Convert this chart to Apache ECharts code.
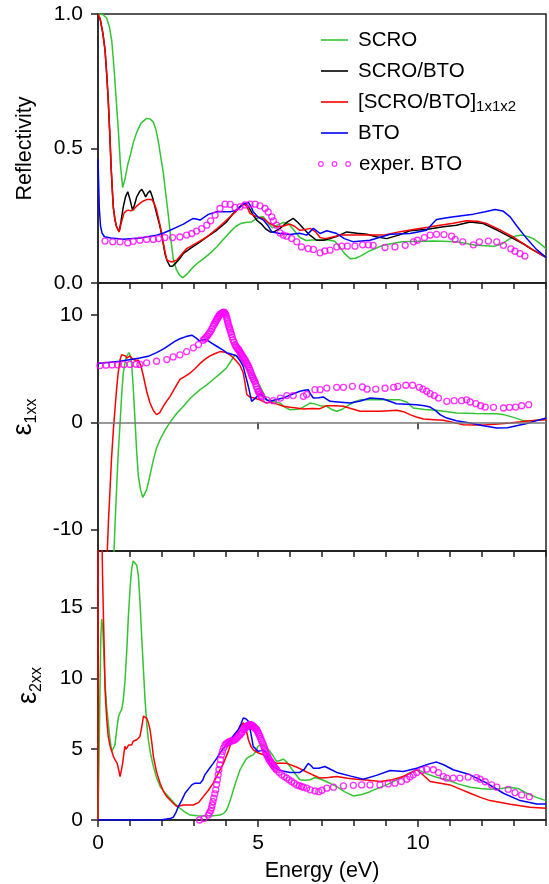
<!DOCTYPE html>
<html>
<head>
<meta charset="utf-8">
<script src="https://cdn.jsdelivr.net/npm/echarts@6/dist/echarts.min.js"></script>
<style>
html, body { margin: 0; padding: 0; background: #fff; }
#chart { width: 549px; height: 884px; }
</style>
</head>
<body>
<div id="chart"></div>
<script>
// ---- tick labels ----
const energyTicks = [0, 5, 10];
const reflTicks = [0, 0.5, 1.0];
const eps1Ticks = [-10, 0, 10];
const eps2Ticks = [0, 5, 10, 15];

// ---- legend names ----
const nameScro = 'SCRO';
const nameScroBto = 'SCRO/BTO';
const nameSuper = '[SCRO/BTO]1x1x2';
const nameBto = 'BTO';
const nameExp = 'exper. BTO';

// ---- reflectivity ----
const scroReflE = [0, 0.15, 0.27, 0.36, 0.43, 0.5, 0.57, 0.64, 0.7, 0.77, 0.85, 0.93, 1.0, 1.1, 1.21, 1.35, 1.52, 1.63, 1.73, 1.81, 1.88, 1.96, 2.04, 2.12, 2.2, 2.28, 2.35, 2.45, 2.55, 2.65, 2.8, 2.98, 3.15, 3.29, 3.5, 3.71, 3.9, 4.13, 4.3, 4.44, 4.6, 4.8, 4.96, 5.08, 5.17, 5.3, 5.45, 5.6, 5.8, 5.95, 6.1, 6.3, 6.5, 6.7, 6.95, 7.2, 7.4, 7.55, 7.7, 7.88, 8.05, 8.2, 8.5, 8.9, 9.5, 10.0, 10.5, 11.2, 11.8, 12.4, 12.65, 12.85, 13.05, 13.25, 13.45, 13.6, 13.8, 14];
const scroReflR = [1.0, 0.998, 0.985, 0.95, 0.9, 0.8, 0.68, 0.56, 0.44, 0.355, 0.39, 0.44, 0.47, 0.52, 0.56, 0.595, 0.612, 0.61, 0.598, 0.57, 0.53, 0.47, 0.41, 0.33, 0.25, 0.16, 0.09, 0.05, 0.028, 0.02, 0.035, 0.06, 0.078, 0.09, 0.11, 0.134, 0.16, 0.19, 0.21, 0.22, 0.225, 0.227, 0.24, 0.245, 0.246, 0.225, 0.205, 0.215, 0.225, 0.22, 0.2, 0.17, 0.158, 0.16, 0.16, 0.16, 0.155, 0.135, 0.11, 0.09, 0.092, 0.1, 0.12, 0.14, 0.153, 0.155, 0.156, 0.153, 0.14, 0.137, 0.147, 0.163, 0.175, 0.178, 0.172, 0.165, 0.148, 0.128];

const scroBtoReflE = [0, 0.07, 0.15, 0.22, 0.27, 0.32, 0.37, 0.41, 0.45, 0.48, 0.53, 0.58, 0.66, 0.72, 0.79, 0.86, 0.93, 1.0, 1.08, 1.14, 1.21, 1.3, 1.37, 1.43, 1.49, 1.56, 1.63, 1.7, 1.78, 1.86, 1.94, 2.02, 2.09, 2.17, 2.25, 2.33, 2.41, 2.55, 2.67, 2.9, 3.19, 3.45, 3.71, 4.0, 4.23, 4.45, 4.59, 4.7, 4.85, 4.96, 5.1, 5.25, 5.38, 5.5, 5.69, 5.9, 6.1, 6.25, 6.42, 6.6, 6.83, 7.04, 7.25, 7.5, 7.77, 8.1, 8.4, 8.7, 9.02, 9.4, 9.75, 10.3, 10.79, 11.2, 11.63, 12.04, 12.5, 12.98, 13.3, 13.6, 14];
const scroBtoReflR = [1.0, 0.98, 0.93, 0.867, 0.78, 0.68, 0.55, 0.43, 0.34, 0.28, 0.235, 0.209, 0.19, 0.23, 0.283, 0.32, 0.339, 0.31, 0.271, 0.29, 0.32, 0.34, 0.348, 0.335, 0.32, 0.335, 0.343, 0.32, 0.283, 0.245, 0.209, 0.16, 0.11, 0.08, 0.062, 0.062, 0.072, 0.09, 0.11, 0.13, 0.153, 0.175, 0.196, 0.225, 0.259, 0.285, 0.296, 0.285, 0.252, 0.234, 0.22, 0.2, 0.19, 0.19, 0.203, 0.225, 0.24, 0.225, 0.203, 0.18, 0.159, 0.159, 0.165, 0.175, 0.19, 0.185, 0.181, 0.172, 0.165, 0.178, 0.194, 0.2, 0.209, 0.215, 0.227, 0.221, 0.195, 0.165, 0.145, 0.122, 0.095];

const superReflE = [0, 0.07, 0.15, 0.22, 0.27, 0.32, 0.37, 0.41, 0.45, 0.48, 0.53, 0.58, 0.66, 0.73, 0.81, 0.88, 0.95, 1.02, 1.1, 1.2, 1.31, 1.42, 1.52, 1.6, 1.68, 1.76, 1.83, 1.91, 1.99, 2.07, 2.15, 2.3, 2.46, 2.6, 2.77, 3.1, 3.4, 3.7, 4.02, 4.3, 4.54, 4.65, 4.75, 4.85, 5.0, 5.17, 5.35, 5.58, 5.8, 6.0, 6.15, 6.31, 6.45, 6.63, 6.8, 6.94, 7.1, 7.3, 7.56, 8.0, 8.5, 8.92, 9.4, 9.85, 10.3, 10.69, 11.1, 11.52, 11.85, 12.15, 12.6, 12.98, 13.5, 14];
const superReflR = [1.0, 0.98, 0.93, 0.865, 0.78, 0.68, 0.55, 0.43, 0.34, 0.28, 0.235, 0.21, 0.19, 0.225, 0.259, 0.268, 0.271, 0.268, 0.271, 0.285, 0.296, 0.305, 0.31, 0.31, 0.31, 0.295, 0.271, 0.23, 0.184, 0.13, 0.085, 0.078, 0.085, 0.105, 0.128, 0.15, 0.171, 0.2, 0.234, 0.265, 0.296, 0.285, 0.259, 0.252, 0.245, 0.24, 0.222, 0.209, 0.212, 0.219, 0.21, 0.196, 0.198, 0.203, 0.19, 0.169, 0.165, 0.17, 0.178, 0.178, 0.178, 0.178, 0.19, 0.199, 0.207, 0.215, 0.222, 0.231, 0.23, 0.221, 0.195, 0.171, 0.13, 0.095];

const btoReflE = [0, 0.02, 0.04, 0.08, 0.13, 0.2, 0.4, 0.79, 1.31, 1.83, 2.05, 2.25, 2.45, 2.67, 2.85, 2.98, 3.1, 3.19, 3.3, 3.45, 3.71, 4.13, 4.3, 4.44, 4.58, 4.7, 4.75, 4.8, 4.85, 5.0, 5.17, 5.3, 5.43, 5.69, 6.0, 6.3, 6.52, 6.73, 6.94, 7.15, 7.46, 7.7, 7.98, 8.5, 9.13, 9.75, 10.27, 10.45, 10.58, 11.0, 11.73, 12.1, 12.41, 12.65, 12.88, 13.1, 13.4, 13.7, 14];
const btoReflR = [0.46, 0.37, 0.28, 0.21, 0.185, 0.172, 0.167, 0.163, 0.167, 0.178, 0.186, 0.196, 0.207, 0.219, 0.232, 0.24, 0.237, 0.234, 0.243, 0.255, 0.265, 0.265, 0.27, 0.283, 0.295, 0.3, 0.302, 0.28, 0.265, 0.245, 0.234, 0.215, 0.19, 0.184, 0.18, 0.185, 0.178, 0.203, 0.184, 0.194, 0.184, 0.165, 0.153, 0.159, 0.181, 0.184, 0.196, 0.22, 0.236, 0.244, 0.256, 0.265, 0.273, 0.268, 0.246, 0.21, 0.165, 0.125, 0.095];

const expReflE = [0.22, 0.46, 0.69, 0.93, 1.1, 1.31, 1.52, 1.73, 1.89, 2.09, 2.33, 2.56, 2.77, 2.93, 3.08, 3.24, 3.4, 3.52, 3.66, 3.81, 3.97, 4.13, 4.28, 4.44, 4.59, 4.75, 4.91, 5.06, 5.22, 5.32, 5.43, 5.48, 5.58, 5.69, 5.79, 5.9, 6.05, 6.21, 6.36, 6.57, 6.73, 6.94, 7.09, 7.25, 7.46, 7.62, 7.79, 8.03, 8.27, 8.45, 8.6, 8.97, 9.28, 9.6, 9.86, 9.98, 10.2, 10.38, 10.58, 10.81, 11.05, 11.16, 11.4, 11.73, 11.92, 12.2, 12.46, 12.67, 12.9, 13.03, 13.19, 13.34];
const expReflR = [0.156, 0.153, 0.153, 0.149, 0.155, 0.159, 0.162, 0.162, 0.165, 0.169, 0.169, 0.171, 0.178, 0.184, 0.193, 0.202, 0.215, 0.231, 0.252, 0.277, 0.293, 0.292, 0.281, 0.283, 0.29, 0.293, 0.293, 0.287, 0.277, 0.264, 0.246, 0.231, 0.215, 0.186, 0.178, 0.174, 0.165, 0.153, 0.134, 0.128, 0.125, 0.112, 0.119, 0.122, 0.134, 0.137, 0.137, 0.137, 0.142, 0.142, 0.14, 0.132, 0.134, 0.14, 0.153, 0.159, 0.169, 0.178, 0.181, 0.18, 0.174, 0.162, 0.153, 0.142, 0.153, 0.156, 0.153, 0.14, 0.127, 0.118, 0.109, 0.1];

// ---- real part of the dielectric function ----
const scroEps1E = [0.47, 0.5, 0.54, 0.58, 0.63, 0.69, 0.74, 0.79, 0.85, 0.9, 0.97, 1.01, 1.05, 1.1, 1.16, 1.21, 1.26, 1.33, 1.4, 1.46, 1.52, 1.62, 1.73, 1.83, 1.94, 2.1, 2.25, 2.45, 2.67, 2.9, 3.19, 3.4, 3.6, 3.8, 4.02, 4.15, 4.28, 4.44, 4.6, 4.75, 4.85, 5.06, 5.27, 5.45, 5.69, 5.85, 6.0, 6.15, 6.31, 6.45, 6.63, 6.8, 6.94, 7.15, 7.3, 7.46, 7.62, 7.77, 8.0, 8.19, 8.5, 8.81, 9.1, 9.44, 9.65, 9.85, 10.2, 10.58, 11.21, 11.8, 12.46, 12.7, 12.88, 13.1, 13.29, 13.6, 13.99];
const scroEps1V = [-15, -12, -9, -6.3, -3, -0.06, 2.6, 4.6, 5.7, 6.2, 6.5, 6.2, 5.5, 3.3, 0, -2.8, -5.0, -6.3, -7.0, -6.9, -6.3, -5.0, -3.5, -2.4, -1.6, -0.7, 0, 0.8, 1.5, 2.3, 3.05, 3.5, 4.0, 4.5, 5.1, 5.7, 6.3, 5.9, 5.2, 4.7, 4.3, 3.4, 2.1, 1.96, 1.8, 1.4, 1.18, 1.2, 1.25, 1.5, 1.8, 1.7, 1.56, 1.5, 1.2, 1.03, 1.2, 1.5, 1.9, 2.1, 2.1, 2.1, 2.1, 2.1, 1.9, 1.34, 1.2, 1.12, 0.87, 0.83, 0.81, 0.7, 0.56, 0.35, 0.16, 0.15, 0.31];

const superEps1E = [0.27, 0.29, 0.33, 0.375, 0.42, 0.48, 0.53, 0.58, 0.63, 0.69, 0.74, 0.79, 0.85, 0.9, 0.95, 1.0, 1.05, 1.1, 1.18, 1.26, 1.34, 1.42, 1.52, 1.625, 1.73, 1.83, 1.93, 2.04, 2.15, 2.25, 2.4, 2.56, 2.72, 2.875, 3.03, 3.19, 3.35, 3.5, 3.65, 3.81, 3.97, 4.125, 4.23, 4.33, 4.44, 4.54, 4.6, 4.65, 4.75, 4.85, 5.06, 5.27, 5.375, 5.6, 5.79, 6.0, 6.2, 6.42, 6.7, 6.94, 7.15, 7.4, 7.67, 7.9, 8.19, 8.5, 8.81, 9.1, 9.33, 9.55, 9.75, 9.95, 10.17, 10.5, 10.79, 11.1, 11.42, 11.8, 12.15, 12.5, 12.88, 13.2, 13.5, 14];
const superEps1V = [-16, -12, -9, -6.3, -3.5, -0.7, 1.2, 3.05, 4.6, 5.86, 6.3, 6.4, 6.2, 6.0, 6.0, 6.2, 6.1, 5.86, 5.8, 5.8, 5.3, 4.3, 2.9, 1.8, 1.1, 0.72, 0.9, 1.5, 2.0, 2.4, 3.2, 4.0, 4.3, 4.6, 5.0, 5.5, 5.9, 6.2, 6.4, 6.6, 6.55, 6.3, 6.0, 5.7, 5.3, 4.6, 3.6, 2.6, 2.35, 2.3, 2.1, 1.8, 1.87, 1.7, 1.5, 1.4, 1.34, 1.25, 1.3, 1.28, 1.56, 1.55, 1.5, 1.3, 1.03, 1.03, 1.03, 1.08, 1.12, 1.0, 0.72, 0.5, 0.31, 0.25, 0.19, 0.0, -0.22, -0.25, -0.22, -0.15, -0.06, 0.05, 0.16, 0.25];

const btoEps1E = [0, 0.69, 1.31, 1.6, 1.83, 2.05, 2.25, 2.4, 2.56, 2.75, 2.93, 3.05, 3.17, 3.28, 3.4, 3.55, 3.71, 3.87, 4.02, 4.18, 4.33, 4.45, 4.54, 4.6, 4.67, 4.74, 4.8, 4.9, 5.06, 5.17, 5.27, 5.375, 5.55, 5.79, 6.05, 6.31, 6.45, 6.57, 6.65, 6.73, 6.9, 7.04, 7.25, 7.5, 7.88, 8.2, 8.5, 8.92, 9.33, 9.65, 9.96, 10.2, 10.38, 10.55, 10.7, 10.9, 11.2, 11.63, 12.0, 12.46, 12.8, 13.08, 13.4, 13.71, 14];
const btoEps1V = [5.48, 5.7, 6.0, 6.2, 6.5, 6.85, 7.26, 7.55, 7.8, 8.0, 8.13, 7.9, 7.6, 7.7, 7.7, 7.4, 7.1, 6.8, 6.5, 6.35, 6.2, 5.7, 5.2, 4.5, 3.7, 2.8, 1.96, 2.2, 2.7, 2.4, 2.1, 1.96, 2.1, 2.27, 2.6, 2.9, 3.0, 3.05, 2.6, 2.27, 2.3, 2.37, 1.96, 1.9, 1.8, 2.0, 2.27, 2.18, 1.74, 1.7, 1.65, 1.55, 1.43, 1.1, 0.7, 0.4, 0.15, -0.06, -0.3, -0.53, -0.5, -0.31, -0.1, 0.16, 0.4];

const expEps1E = [0.06, 0.25, 0.44, 0.62, 0.81, 1.0, 1.19, 1.31, 1.52, 1.83, 2.15, 2.35, 2.56, 2.77, 2.98, 3.14, 3.29, 3.33, 3.37, 3.41, 3.45, 3.485, 3.52, 3.56, 3.6, 3.63, 3.66, 3.685, 3.71, 3.735, 3.76, 3.785, 3.81, 3.845, 3.88, 3.91, 3.94, 3.96, 3.98, 4.0, 4.02, 4.035, 4.05, 4.07, 4.09, 4.11, 4.13, 4.15, 4.17, 4.195, 4.22, 4.25, 4.28, 4.305, 4.33, 4.36, 4.39, 4.415, 4.44, 4.465, 4.49, 4.515, 4.54, 4.57, 4.6, 4.625, 4.65, 4.675, 4.7, 4.725, 4.75, 4.775, 4.8, 4.825, 4.85, 4.875, 4.9, 4.925, 4.95, 4.98, 5.01, 5.035, 5.06, 5.085, 5.11, 5.27, 5.48, 5.7, 5.9, 6.1, 6.42, 6.52, 6.78, 6.94, 7.15, 7.46, 7.67, 7.95, 8.26, 8.41, 8.68, 8.97, 9.24, 9.37, 9.62, 9.83, 10.04, 10.15, 10.27, 10.38, 10.51, 10.64, 10.9, 11.13, 11.36, 11.52, 11.63, 11.81, 11.96, 12.1, 12.36, 12.67, 12.86, 13.05, 13.24, 13.46];
const expEps1V = [5.3, 5.33, 5.36, 5.36, 5.4, 5.4, 5.42, 5.4, 5.55, 5.7, 5.86, 6.1, 6.3, 6.6, 6.95, 7.26, 7.66, 7.78, 7.9, 8.05, 8.2, 8.35, 8.5, 8.72, 8.97, 9.15, 9.3, 9.45, 9.6, 9.72, 9.85, 9.95, 10.06, 10.15, 10.2, 10.25, 10.28, 10.22, 10.1, 10.0, 9.8, 9.6, 9.4, 9.2, 8.97, 8.8, 8.6, 8.4, 8.2, 7.95, 7.7, 7.5, 7.26, 7.12, 7.0, 6.9, 6.8, 6.68, 6.55, 6.42, 6.3, 6.18, 6.05, 5.92, 5.8, 5.65, 5.5, 5.37, 5.23, 5.05, 4.85, 4.65, 4.45, 4.28, 4.1, 3.95, 3.8, 3.6, 3.35, 3.1, 2.9, 2.78, 2.65, 2.5, 2.4, 2.1, 2.02, 2.27, 2.5, 2.5, 2.43, 2.6, 3.05, 3.05, 3.2, 3.27, 3.27, 3.36, 3.3, 3.1, 3.1, 3.18, 3.27, 3.36, 3.46, 3.46, 3.27, 3.1, 2.9, 2.68, 2.5, 2.27, 1.96, 2.02, 2.02, 2.1, 1.9, 1.74, 1.55, 1.43, 1.4, 1.34, 1.4, 1.43, 1.55, 1.65];

// ---- imaginary part of the dielectric function ----
const scroEps2E = [0, 0.03, 0.06, 0.09, 0.115, 0.15, 0.22, 0.27, 0.32, 0.38, 0.43, 0.48, 0.53, 0.58, 0.64, 0.69, 0.74, 0.79, 0.84, 0.9, 0.95, 1.0, 1.05, 1.1, 1.16, 1.21, 1.26, 1.31, 1.36, 1.42, 1.47, 1.52, 1.57, 1.65, 1.73, 1.83, 1.94, 2.1, 2.25, 2.4, 2.56, 2.72, 2.875, 3.1, 3.4, 3.6, 3.81, 3.92, 4.02, 4.12, 4.23, 4.33, 4.44, 4.55, 4.65, 4.75, 4.85, 4.92, 5.0, 5.08, 5.17, 5.27, 5.375, 5.48, 5.58, 5.69, 5.79, 5.9, 6.0, 6.15, 6.31, 6.47, 6.63, 6.78, 6.94, 7.15, 7.46, 7.7, 7.98, 8.25, 8.5, 8.75, 9.02, 9.3, 9.54, 9.75, 9.96, 10.1, 10.27, 10.6, 10.9, 11.25, 11.63, 11.95, 12.25, 12.55, 12.88, 13.15, 13.4, 13.7, 14];
const scroEps2V = [0, 4, 9, 13, 14.2, 13.5, 9.7, 8.0, 6.86, 5.6, 4.85, 4.75, 5.3, 6.3, 7.3, 7.6, 7.8, 8.5, 9.7, 12.0, 14.4, 16.3, 17.7, 18.3, 18.4, 18.0, 17.3, 15.5, 13.2, 10.6, 8.5, 6.9, 5.7, 4.6, 3.8, 3.0, 2.36, 1.9, 1.54, 1.15, 0.83, 0.55, 0.35, 0.3, 0.28, 0.3, 0.35, 0.45, 0.71, 1.3, 2.13, 2.85, 3.55, 4.0, 4.37, 4.5, 4.6, 4.8, 5.2, 5.3, 5.3, 5.1, 4.85, 4.5, 4.14, 4.2, 4.3, 4.1, 3.78, 3.3, 2.84, 2.8, 2.84, 3.0, 2.9, 2.7, 2.36, 2.0, 1.7, 1.8, 2.0, 2.25, 2.48, 2.8, 3.07, 3.35, 3.55, 3.45, 3.26, 3.0, 2.84, 2.55, 2.32, 2.22, 2.17, 2.2, 2.32, 2.2, 1.89, 1.6, 1.37];

const superEps2E = [0, 0.005, 0.11, 0.14, 0.17, 0.2, 0.22, 0.27, 0.32, 0.38, 0.43, 0.48, 0.53, 0.6, 0.65, 0.69, 0.73, 0.77, 0.81, 0.84, 0.88, 0.92, 0.96, 1.0, 1.05, 1.1, 1.15, 1.21, 1.26, 1.31, 1.37, 1.42, 1.47, 1.52, 1.57, 1.625, 1.68, 1.73, 1.83, 1.94, 2.05, 2.15, 2.3, 2.46, 2.67, 2.98, 3.15, 3.29, 3.45, 3.6, 3.76, 3.92, 4.08, 4.23, 4.39, 4.47, 4.54, 4.62, 4.7, 4.78, 4.85, 5.0, 5.17, 5.375, 5.58, 5.9, 6.2, 6.42, 6.7, 6.94, 7.2, 7.46, 7.8, 8.08, 8.45, 8.81, 9.2, 9.54, 9.75, 9.96, 10.15, 10.38, 10.7, 11.0, 11.3, 11.63, 11.95, 12.25, 12.55, 12.88, 13.2, 13.5, 14];
const superEps2V = [0, 40, 22, 17.5, 14.4, 11.5, 9.2, 7.2, 5.9, 5.2, 4.85, 4.5, 4.26, 4.0, 3.5, 3.07, 3.5, 4.0, 4.7, 5.2, 5.0, 4.96, 5.3, 5.44, 5.3, 5.56, 5.5, 5.67, 5.6, 5.9, 6.6, 7.33, 7.35, 7.2, 6.9, 6.4, 5.5, 4.5, 3.4, 2.6, 2.0, 1.65, 1.3, 0.95, 1.06, 1.06, 1.25, 1.65, 2.1, 2.6, 3.3, 4.0, 4.9, 5.9, 6.4, 6.65, 6.86, 6.5, 5.67, 5.2, 4.96, 4.75, 4.6, 4.26, 4.0, 4.0, 3.74, 3.5, 3.2, 2.96, 3.0, 3.07, 2.95, 2.88, 2.8, 2.72, 2.85, 3.07, 3.3, 3.55, 3.2, 2.72, 2.6, 2.48, 2.2, 1.89, 1.6, 1.37, 1.25, 1.11, 1.0, 0.9, 0.83];

const btoEps2E = [0, 1.0, 2.0, 2.25, 2.35, 2.43, 2.51, 2.62, 2.72, 2.83, 2.93, 3.03, 3.19, 3.27, 3.34, 3.47, 3.6, 3.71, 3.81, 3.97, 4.125, 4.25, 4.39, 4.47, 4.54, 4.62, 4.7, 4.78, 4.85, 5.0, 5.1, 5.17, 5.27, 5.375, 5.52, 5.69, 6.0, 6.31, 6.45, 6.57, 6.65, 6.73, 6.9, 7.09, 7.25, 7.46, 7.9, 8.29, 8.7, 9.13, 9.54, 9.96, 10.2, 10.4, 10.58, 10.8, 11.1, 11.63, 12.15, 12.67, 13.19, 13.71, 14];
const btoEps2V = [0, 0, 0.02, 0.1, 0.19, 0.5, 0.95, 1.4, 1.89, 2.2, 2.48, 2.6, 2.6, 2.8, 3.19, 3.6, 4.0, 4.35, 4.73, 5.2, 5.67, 6.0, 6.4, 6.8, 7.21, 7.15, 6.97, 6.1, 5.2, 4.85, 4.9, 4.96, 4.7, 4.0, 3.7, 3.5, 3.36, 3.36, 3.6, 4.0, 3.85, 3.66, 3.66, 3.78, 3.6, 3.36, 3.1, 2.88, 3.15, 3.5, 3.43, 3.66, 3.85, 4.0, 4.09, 3.9, 3.55, 3.19, 2.6, 1.89, 1.37, 1.13, 1.13];

const expEps2E = [3.17, 3.31, 3.45, 3.48, 3.52, 3.545, 3.57, 3.595, 3.62, 3.65, 3.68, 3.705, 3.73, 3.755, 3.78, 3.805, 3.83, 3.86, 3.89, 3.93, 3.97, 4.01, 4.05, 4.08, 4.12, 4.16, 4.2, 4.24, 4.28, 4.32, 4.36, 4.4, 4.44, 4.47, 4.5, 4.54, 4.57, 4.6, 4.625, 4.65, 4.675, 4.7, 4.725, 4.75, 4.775, 4.8, 4.825, 4.85, 4.875, 4.9, 4.93, 4.96, 4.985, 5.01, 5.035, 5.06, 5.085, 5.11, 5.14, 5.17, 5.19, 5.21, 5.23, 5.25, 5.275, 5.3, 5.325, 5.35, 5.375, 5.4, 5.43, 5.46, 5.49, 5.52, 5.55, 5.58, 5.66, 5.74, 5.82, 5.9, 5.97, 6.05, 6.13, 6.21, 6.29, 6.36, 6.42, 6.52, 6.63, 6.78, 6.9, 7.0, 7.15, 7.36, 7.67, 7.98, 8.24, 8.5, 8.81, 9.07, 9.28, 9.48, 9.65, 9.75, 9.85, 9.96, 10.12, 10.27, 10.48, 10.64, 10.79, 10.9, 11.1, 11.31, 11.57, 11.83, 11.94, 12.1, 12.3, 12.46, 12.82, 13.03, 13.24, 13.48];
const expEps2V = [0.0, 0.1, 0.35, 0.5, 0.65, 0.85, 1.06, 1.3, 1.55, 1.85, 2.13, 2.5, 2.84, 3.2, 3.55, 3.9, 4.26, 4.6, 4.85, 5.1, 5.3, 5.4, 5.45, 5.5, 5.55, 5.58, 5.6, 5.63, 5.67, 5.75, 5.85, 5.95, 6.03, 6.12, 6.2, 6.38, 6.45, 6.5, 6.56, 6.62, 6.66, 6.7, 6.72, 6.74, 6.73, 6.7, 6.66, 6.62, 6.56, 6.5, 6.44, 6.38, 6.27, 6.15, 6.03, 5.91, 5.75, 5.6, 5.45, 5.3, 5.15, 5.0, 4.86, 4.73, 4.6, 4.5, 4.38, 4.26, 4.18, 4.1, 4.0, 3.9, 3.8, 3.72, 3.63, 3.55, 3.37, 3.19, 3.07, 2.96, 2.84, 2.72, 2.6, 2.48, 2.42, 2.36, 2.32, 2.25, 2.13, 2.05, 2.0, 2.1, 2.25, 2.32, 2.41, 2.45, 2.48, 2.48, 2.48, 2.55, 2.6, 2.72, 2.88, 3.05, 3.19, 3.35, 3.5, 3.59, 3.55, 3.35, 3.07, 2.96, 2.96, 2.96, 3.03, 3.0, 2.88, 2.7, 2.48, 2.32, 2.17, 1.94, 1.77, 1.65];

// ---- styling ----
const FONT = 'Liberation Sans';
const INK = '#222';
const COLORS = {
  [nameScro]: '#33c433',
  [nameScroBto]: '#000000',
  [nameSuper]: '#ff0000',
  [nameBto]: '#0000ff',
  [nameExp]: '#ff00ff'
};

const pairs = (xs, ys) => xs.map((x, i) => [x, ys[i]]);

const panels = [
  { top: 14, height: 269, min: 0, max: 1, ticks: reflTicks },
  { top: 283, height: 268, min: -12, max: 13, ticks: eps1Ticks },
  { top: 551, height: 269, min: 0, max: 19, ticks: eps2Ticks }
];

const grid = panels.map(p => ({
  left: 98, width: 448, top: p.top, height: p.height,
  show: true, borderColor: INK, borderWidth: 1.5,
  backgroundColor: 'transparent',
  containLabel: false, outerBoundsMode: 'none'
}));

const lineStyleAxis = { color: INK, width: 1.5 };

const xAxis = [];
const yAxis = [];
panels.forEach((p, i) => {
  const last = i === panels.length - 1;
  xAxis.push({
    gridIndex: i, type: 'value', min: 0, max: 14, interval: 1,
    axisLine: { show: true, onZero: false, lineStyle: lineStyleAxis },
    axisTick: { show: true, inside: false, length: 6, lineStyle: lineStyleAxis },
    axisLabel: {
      show: last, customValues: energyTicks, margin: 13,
      fontFamily: FONT, fontSize: 21, color: '#000'
    },
    splitLine: { show: false },
    name: last ? 'Energy (eV)' : '',
    nameLocation: 'middle', nameGap: 40,
    nameTextStyle: { fontFamily: FONT, fontSize: 21.5, color: '#000' }
  });
  xAxis.push({
    gridIndex: i, type: 'value', min: 0, max: 14,
    axisLine: { show: false },
    axisTick: { show: true, inside: true, length: 7, customValues: energyTicks, lineStyle: lineStyleAxis },
    axisLabel: { show: false },
    splitLine: { show: false }
  });
});

const epsRich = {
  e: { fontFamily: FONT, fontSize: 27, lineHeight: 32, verticalAlign: 'middle', color: '#000' },
  s: { fontFamily: FONT, fontSize: 16, lineHeight: 4, verticalAlign: 'bottom', color: '#000' }
};
const yNames = [
  { name: 'Reflectivity', gap: 62, style: { fontFamily: FONT, fontSize: 21.5, color: '#000' } },
  { name: '{e|ε}{s|1xx}', gap: 58, style: { fontFamily: FONT, color: '#000', rich: epsRich } },
  { name: '{e|ε}{s|2xx}', gap: 53, style: { fontFamily: FONT, color: '#000', rich: epsRich } }
];

panels.forEach((p, i) => {
  yAxis.push({
    gridIndex: i, type: 'value', min: p.min, max: p.max,
    axisLine: { show: true, onZero: false, lineStyle: lineStyleAxis },
    axisTick: { show: true, inside: false, length: 7, customValues: p.ticks, lineStyle: lineStyleAxis },
    axisLabel: {
      show: true, customValues: p.ticks, margin: 15,
      fontFamily: FONT, fontSize: 21, color: '#000',
      formatter: v => (i === 0 ? v.toFixed(1) : String(v))
    },
    splitLine: { show: false },
    name: yNames[i].name, nameLocation: 'middle', nameGap: yNames[i].gap,
    nameTextStyle: yNames[i].style
  });
  yAxis.push({
    gridIndex: i, type: 'value', min: p.min, max: p.max,
    axisLine: { show: false },
    axisTick: { show: true, inside: true, length: 7, customValues: p.ticks, lineStyle: lineStyleAxis },
    axisLabel: { show: false },
    splitLine: { show: false }
  });
});

function curve(name, panel, xs, ys, extra) {
  return Object.assign({
    name, type: 'line', xAxisIndex: panel * 2, yAxisIndex: panel * 2,
    data: pairs(xs, ys), symbol: 'none', showSymbol: false, clip: true,
    lineStyle: { color: COLORS[name], width: 1.5 },
    itemStyle: { color: COLORS[name] },
    animation: false, silent: true, z: 3
  }, extra || {});
}
function points(panel, xs, ys) {
  return {
    name: nameExp, type: 'scatter', xAxisIndex: panel * 2, yAxisIndex: panel * 2,
    data: pairs(xs, ys), symbol: 'circle', symbolSize: 6, clip: true,
    itemStyle: { color: 'rgba(255,255,255,0)', borderColor: COLORS[nameExp], borderWidth: 1.3 },
    animation: false, silent: true, z: 4
  };
}

const zeroLine = {
  silent: true, symbol: ['none', 'none'], label: { show: false },
  lineStyle: { color: '#777', width: 1.5, type: 'solid' },
  data: [{ yAxis: 0 }], animation: false
};

const series = [
  curve(nameScro, 0, scroReflE, scroReflR),
  curve(nameScroBto, 0, scroBtoReflE, scroBtoReflR),
  curve(nameSuper, 0, superReflE, superReflR),
  curve(nameBto, 0, btoReflE, btoReflR),
  points(0, expReflE, expReflR),

  curve(nameScro, 1, scroEps1E, scroEps1V, { markLine: zeroLine }),
  curve(nameSuper, 1, superEps1E, superEps1V),
  curve(nameBto, 1, btoEps1E, btoEps1V),
  points(1, expEps1E, expEps1V),

  curve(nameScro, 2, scroEps2E, scroEps2V),
  curve(nameSuper, 2, superEps2E, superEps2V),
  curve(nameBto, 2, btoEps2E, btoEps2V),
  points(2, expEps2E, expEps2V)
];

// legend keys: a plain stroke for the calculated curves, three hollow rings for the measured points
const strokeIcon = 'path://M0,0h27v1.6h-27z';
const ringsIcon = 'path://' + [2.9, 16.55, 30.2].map(cx =>
  `M${cx - 2.9},2.9 a2.9,2.9 0 1,0 5.8,0 a2.9,2.9 0 1,0 -5.8,0 Z ` +
  `M${cx - 1.8},2.9 a1.8,1.8 0 1,1 3.6,0 a1.8,1.8 0 1,1 -3.6,0 Z`
).join(' ');

const legendText = {
  fontFamily: FONT, fontSize: 20.5, lineHeight: 24, color: '#000',
  rich: {
    t: { fontFamily: FONT, fontSize: 20.5, lineHeight: 24, padding: [0, 0, 0, 5], color: '#000' },
    t2: { fontFamily: FONT, fontSize: 20.5, lineHeight: 24, padding: [0, 0, 0, 3], color: '#000' },
    sub: { fontFamily: FONT, fontSize: 15, lineHeight: 6, verticalAlign: 'bottom', color: '#000' }
  }
};

const legend = [
  {
    data: [nameScro, nameScroBto, nameSuper, nameBto].map(n => ({
      name: n, icon: strokeIcon, itemStyle: { color: COLORS[n], borderWidth: 0 }
    })),
    orient: 'vertical', left: 321, top: 28, padding: 0,
    itemWidth: 27, itemHeight: 14, itemGap: 7,
    selectedMode: false, textStyle: legendText,
    formatter: n => (n === nameSuper ? '{t|[SCRO/BTO]}{sub|1x1x2}' : '{t|' + n + '}')
  },
  {
    data: [{ name: nameExp, icon: ringsIcon, itemStyle: { color: COLORS[nameExp], borderWidth: 0 } }],
    orient: 'vertical', left: 318, top: 152, padding: 0,
    itemWidth: 33, itemHeight: 14,
    selectedMode: false, textStyle: legendText,
    formatter: n => '{t2|' + n + '}'
  }
];

const chart = echarts.init(document.getElementById('chart'), null, { renderer: 'canvas' });
chart.setOption({
  animation: false,
  backgroundColor: '#fff',
  textStyle: { fontFamily: FONT },
  grid, xAxis, yAxis, legend, series
});
</script>
</body>
</html>
